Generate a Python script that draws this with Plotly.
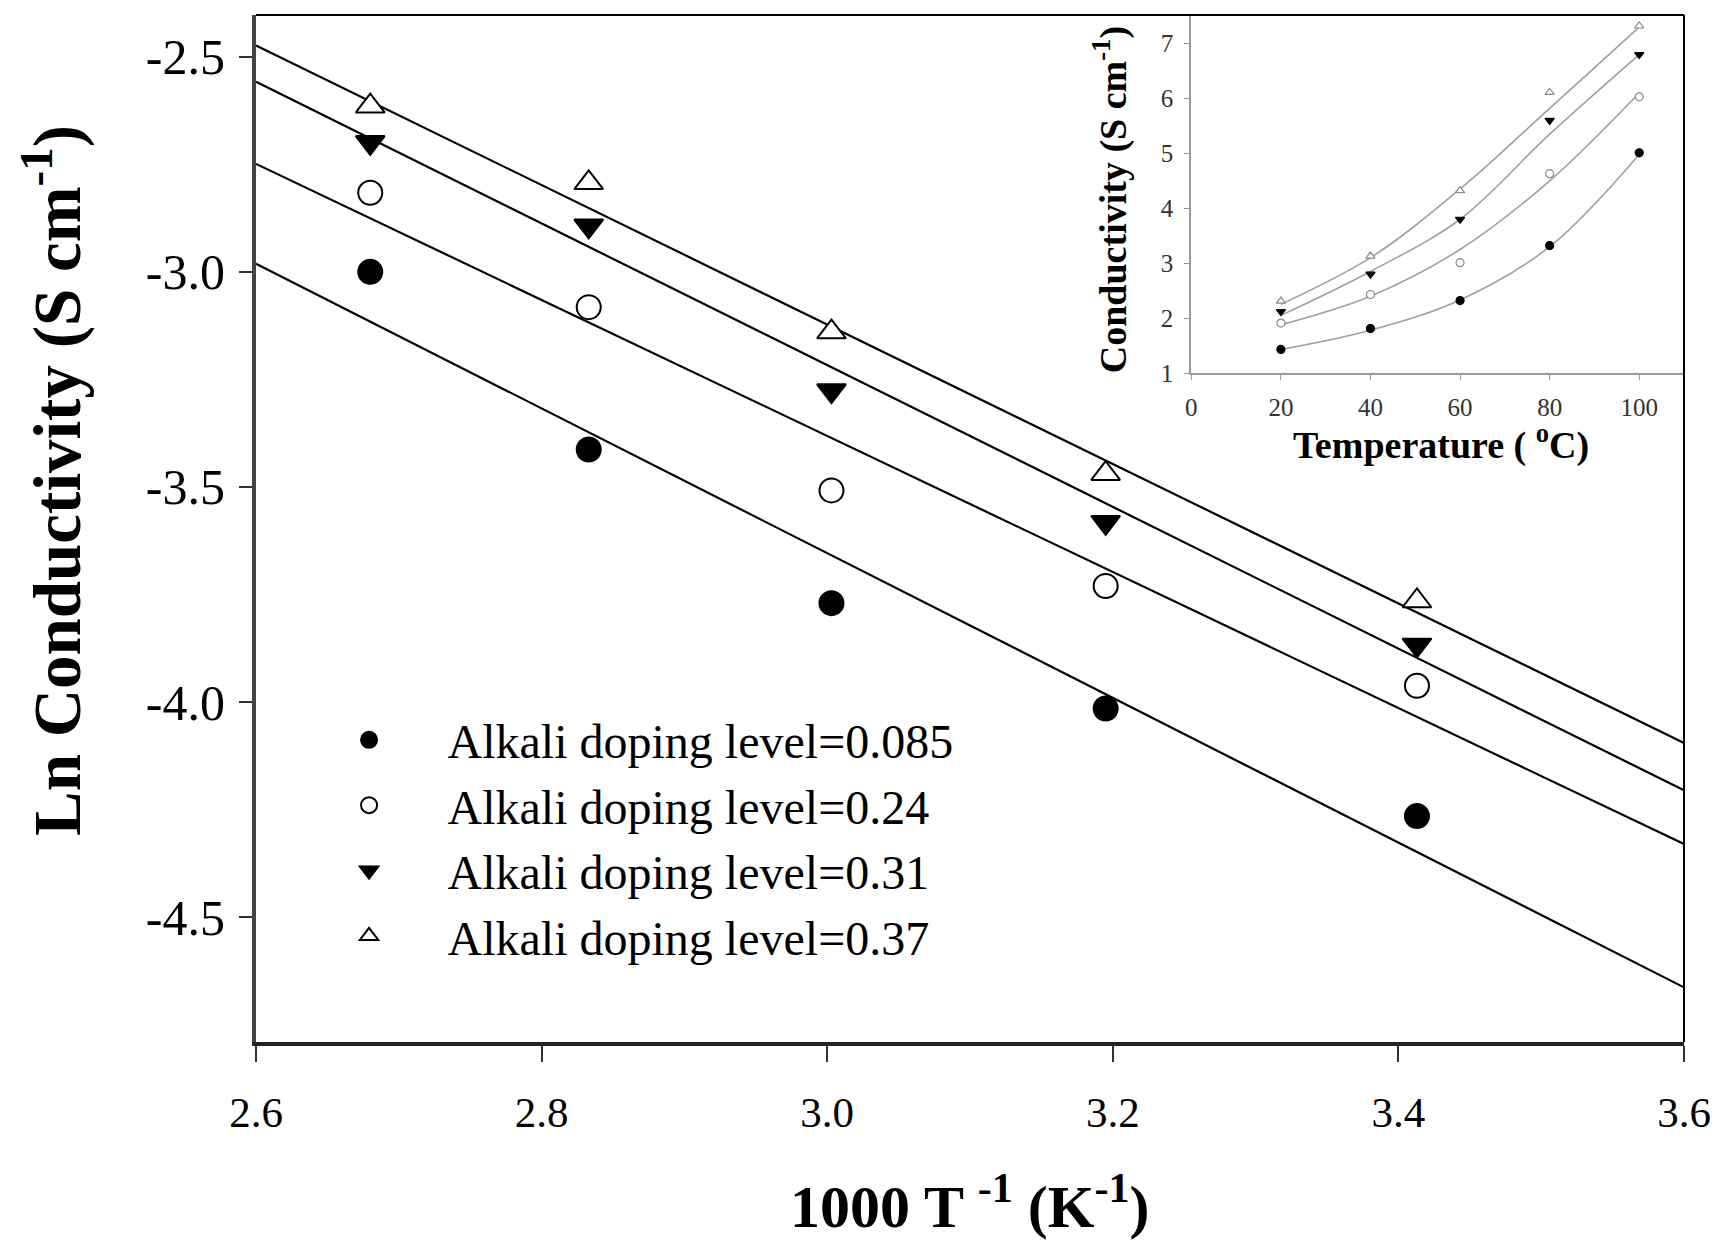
import plotly.graph_objects as go

# ---------------- data ----------------
inv_T = [2.68, 2.833, 3.003, 3.195, 3.413]
labels = ["Alkali doping level=0.085", "Alkali doping level=0.24",
          "Alkali doping level=0.31", "Alkali doping level=0.37"]
ln_085 = [-3.00, -3.413, -3.770, -4.015, -4.265]
ln_024 = [-2.816, -3.082, -3.508, -3.730, -3.962]
ln_031 = [-2.699, -2.893, -3.276, -3.582, -3.867]
ln_037 = [-2.615, -2.793, -3.140, -3.469, -3.765]

# fitted lines: values at x = 2.6 and x = 3.6
fit_x = [2.6, 3.6]
fit_085 = [-2.981, -4.663]
fit_024 = [-2.749, -4.330]
fit_031 = [-2.558, -4.205]
fit_037 = [-2.474, -4.095]

# inset: conductivity vs temperature
temp_C = [20, 40, 60, 80, 100]
s_085 = [1.43, 1.81, 2.32, 3.32, 5.01]
s_024 = [1.91, 2.43, 3.01, 4.63, 6.03]
s_031 = [2.12, 2.80, 3.80, 5.60, 6.80]
s_037 = [2.31, 3.13, 4.32, 6.11, 7.32]
# inset fitted curves, read at the same temperatures
c_085 = [1.43, 1.78, 2.33, 3.30, 4.98]
c_024 = [1.88, 2.40, 3.25, 4.50, 6.10]
c_031 = [2.05, 2.85, 3.80, 5.35, 6.80]
c_037 = [2.25, 3.10, 4.35, 5.82, 7.30]

x_ticks = [2.6, 2.8, 3.0, 3.2, 3.4, 3.6]
x_ticklabels = ["2.6", "2.8", "3.0", "3.2", "3.4", "3.6"]
y_ticks = [-2.5, -3.0, -3.5, -4.0, -4.5]
y_ticklabels = ["-2.5", "-3.0", "-3.5", "-4.0", "-4.5"]
in_x_ticks = [0, 20, 40, 60, 80, 100]
in_y_ticks = [1, 2, 3, 4, 5, 6, 7]

# ---------------- figure ----------------
FONT = "Liberation Serif, Times New Roman, serif"
fig = go.Figure()

series = [ln_085, ln_024, ln_031, ln_037]
fits = [fit_085, fit_024, fit_031, fit_037]
symbols = ["circle", "circle", "triangle-down", "triangle-up"]
fills = ["black", "white", "black", "white"]
sizes = [24, 24, 25, 25]

for f in fits:
    fig.add_trace(go.Scatter(x=fit_x, y=f, mode="lines",
                             line=dict(color="black", width=2.2),
                             showlegend=False, hoverinfo="skip"))

for s, lab, sym, fc, sz in zip(series, labels, symbols, fills, sizes):
    fig.add_trace(go.Scatter(x=inv_T, y=s, mode="markers", name=lab,
                             marker=dict(symbol=sym, size=sz, color=fc,
                                         line=dict(color="black", width=2))))

# inset traces
in_series = [s_085, s_024, s_031, s_037]
in_curves = [c_085, c_024, c_031, c_037]
in_fill = ["black", "white", "black", "white"]
in_line = ["black", "#8a8a8a", "black", "#8a8a8a"]
for c in in_curves:
    fig.add_trace(go.Scatter(x=temp_C, y=c, mode="lines", xaxis="x2", yaxis="y2",
                             line=dict(color="#a0a0a0", width=1.6, shape="spline"),
                             showlegend=False, hoverinfo="skip"))
for s, sym, fc, lc in zip(in_series, symbols, in_fill, in_line):
    fig.add_trace(go.Scatter(x=temp_C, y=s, mode="markers", xaxis="x2", yaxis="y2",
                             marker=dict(symbol=sym, size=8, color=fc,
                                         line=dict(color=lc, width=1.2)),
                             showlegend=False))

fig.update_layout(
    width=1712, height=1238,
    margin=dict(l=248, r=36, t=7, b=204),
    paper_bgcolor="white", plot_bgcolor="white",
    font=dict(family=FONT, color="black"),
    showlegend=True,
    legend=dict(x=0.0242, y=0.331, xanchor="left", yanchor="top",
                font=dict(family=FONT, size=48, color="black"),
                bgcolor="rgba(0,0,0,0)", itemwidth=147,
                tracegroupgap=0),
    xaxis=dict(range=[2.6, 3.6], tickvals=x_ticks, ticktext=x_ticklabels,
               showgrid=False, zeroline=False,
               showline=True, linecolor="#222", linewidth=4,
               ticks="outside", ticklen=16, tickwidth=2, tickcolor="#333",
               tickfont=dict(family=FONT, size=43), ticklabelstandoff=13),
    yaxis=dict(range=[-4.79, -2.403], tickvals=y_ticks, ticktext=y_ticklabels,
               showgrid=False, zeroline=False,
               showline=True, linecolor="#444", linewidth=4,
               ticks="outside", ticklen=13, tickwidth=2, tickcolor="#333",
               tickfont=dict(family=FONT, size=50), ticklabelstandoff=4),
    xaxis2=dict(domain=[0.655, 1.0], anchor="y2", range=[0, 110],
                tickvals=in_x_ticks, showgrid=False, zeroline=False,
                showline=True, linecolor="#999", linewidth=2,
                ticks="outside", ticklen=5, tickcolor="#999",
                tickfont=dict(family=FONT, size=25, color="#333"),
                ticklabelstandoff=6),
    yaxis2=dict(domain=[0.6514, 1.0], anchor="x2", range=[1, 7.52],
                tickvals=in_y_ticks, showgrid=False, zeroline=False,
                showline=True, linecolor="#999", linewidth=2,
                ticks="outside", ticklen=5, tickcolor="#999",
                tickfont=dict(family=FONT, size=25, color="#333"),
                ticklabelstandoff=6),
    shapes=[
        dict(type="line", xref="paper", yref="paper", x0=0, x1=1, y0=1, y1=1,
             line=dict(color="black", width=2)),
        dict(type="line", xref="paper", yref="paper", x0=1, x1=1, y0=0, y1=1,
             line=dict(color="black", width=2)),
    ],
    annotations=[
        dict(text="<b>Ln Conductivity (S cm<sup>-1</sup>)</b>", xref="paper", yref="paper",
             x=-0.143, y=0.547, textangle=-90, showarrow=False,
             font=dict(family=FONT, size=67, color="black"),
             xanchor="center", yanchor="middle"),
        dict(text="<b>1000 T <sup>-1</sup> (K<sup>-1</sup>)</b>", xref="paper", yref="paper",
             x=0.5, y=-0.156, showarrow=False,
             font=dict(family=FONT, size=60, color="black"),
             xanchor="center", yanchor="middle"),
        dict(text="<b>Conductivity (S cm<sup>-1</sup>)</b>", xref="paper", yref="paper",
             x=0.599, y=0.82, textangle=-90, showarrow=False,
             font=dict(family=FONT, size=38, color="black"),
             xanchor="center", yanchor="middle"),
        dict(text="<b>Temperature ( <sup>o</sup>C)</b>", xref="paper", yref="paper",
             x=0.83, y=0.584, showarrow=False,
             font=dict(family=FONT, size=38, color="black"),
             xanchor="center", yanchor="middle"),
    ],
)

fig.write_html("out.html")
